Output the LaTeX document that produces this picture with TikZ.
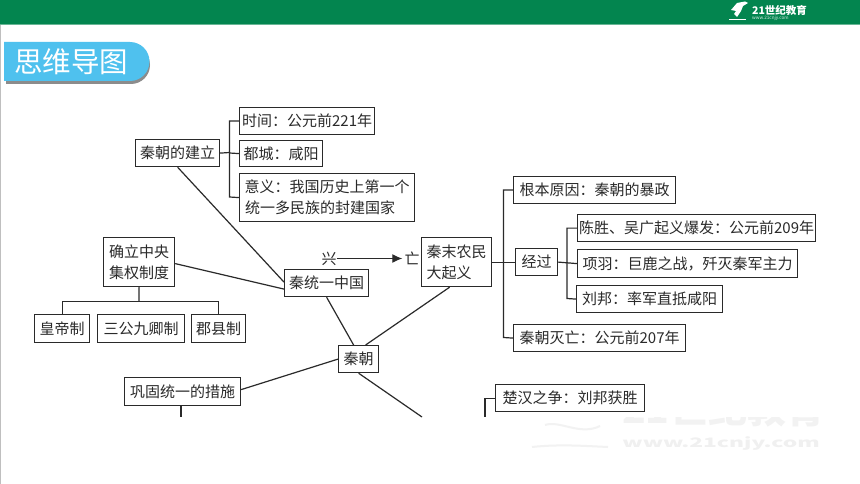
\documentclass[tikz,border=0pt]{standalone}
\usepackage{fontspec}
\usetikzlibrary{calc,arrows.meta}
\setmainfont{Noto Sans CJK SC}
\definecolor{hdr}{HTML}{03854F}
\definecolor{tab}{HTML}{4FC1EE}
\definecolor{ink}{HTML}{2A2A2A}
\tikzset{
  box/.style={draw=ink,line width=1.2pt,fill=white,inner sep=0pt,font=\fontsize{15}{21}\selectfont,text=ink,align=center},
  link/.style={draw=ink,line width=1.2pt},
  bare/.style={inner sep=0pt,font=\fontsize{15}{21}\selectfont,text=ink},
}
\newcommand{\bx}[6]{\node[box,minimum width=#4 pt-#2 pt,minimum height=#5 pt-#3 pt,anchor=north west] (#1) at (#2,#3) {#6};}
\begin{document}
\begin{tikzpicture}[x=1pt,y=-1pt]
\useasboundingbox (0,0) rectangle (860,484);
\fill[white] (0,0) rectangle (860,484);
\fill[black!25] (0,0) rectangle (1.2,484);
% faint watermark
\begin{scope}
\clip (500,417) rectangle (860,484);
\node[inner sep=0pt,text=black!5,font=\fontsize{36}{36}\selectfont\bfseries,anchor=west,xscale=1.08] (wm) at (622,410) {21世纪教育};
\node[inner sep=0pt,text=black!6,font=\fontsize{13}{13}\selectfont\bfseries,anchor=west,xscale=1.75] (wmu) at (622,444) {www.21cnjy.com};
\draw[black!5,line width=2pt] (532,447) .. controls (560,444) and (585,446) .. (608,447);
\draw[black!5,line width=2pt] (545,425) .. controls (560,420) and (580,436) .. (600,426);
\end{scope}
\fill[hdr] (0,0) rectangle (860,24);
\fill[hdr!60] (0,24) rectangle (860,24.8);
% logo
\node[inner sep=0pt,text=white,font=\fontsize{10.5}{10}\selectfont\bfseries\itshape,anchor=west] (logo) at (752,10.5) {21世纪教育};
\node[inner sep=0pt,text=white!85!hdr,font=\fontsize{4.6}{4}\selectfont,anchor=west] (url) at (752,18.5) {www.21cnjy.com};
\fill[white] (731,10) -- (737,3) -- (745,1.5) -- (748,3) -- (743,6) -- (741,11) -- (737,17) -- (734,14) -- (736,11) -- cycle;
\draw[white,line width=.7pt] (729,19.5) -- (746,19.5);
% title tab
\fill[black!45] (6,46) -- (131,46) arc[start angle=-90,end angle=90,radius=19] -- (6,84) -- cycle;
\fill[tab] (4,42) -- (130,42) arc[start angle=-90,end angle=90,radius=19.5] -- (4,81) -- cycle;
\node[inner sep=0pt,text=white,font=\fontsize{28.5}{30}\selectfont] (title) at (71,62) {思维导图};
% boxes
\bx{jl}{135}{139}{219}{166}{秦朝的建立}
\bx{sj}{239}{107}{374}{134}{时间：公元前221年}
\bx{dc}{239}{140}{322}{166}{都城：咸阳}
\bx{yy}{239}{173}{414}{221}{意义：我国历史上第一个\\统一多民族的封建国家\hspace*{14pt}}
\bx{qz}{103}{237}{174}{286}{确立中央\\集权制度}
\bx{hd}{34}{314}{89}{342}{皇帝制}
\bx{sg}{97}{314}{184}{342}{三公九卿制}
\bx{jx}{191}{314}{245}{342}{郡县制}
\bx{ty}{284}{269}{368}{296}{秦统一中国}
\bx{qc}{338}{345}{378}{372}{秦朝}
\bx{gg}{124}{377}{240}{405}{巩固统一的措施}
\bx{nm}{421}{237}{491}{286}{秦末农民\\大起义\hspace*{15pt}}
\bx{gb}{513}{176}{675}{203}{根本原因：秦朝的暴政}
\bx{jg}{515}{248}{557}{275}{经过}
\bx{cs}{577}{214}{815}{241}{陈胜、吴广起义爆发：公元前209年}
\bx{xy}{577}{249}{797}{277}{项羽：巨鹿之战，歼灭秦军主力}
\bx{lb}{576}{285}{722}{312}{刘邦：率军直抵咸阳}
\bx{mw}{513}{324}{685}{351}{秦朝灭亡：公元前207年}
\bx{ch}{495}{384}{644}{411}{楚汉之争：刘邦获胜}
\node[bare] (xing) at (329,258.5) {兴};
\node[bare] (wang) at (412,258.5) {亡};
% free ends where the picture is cut off
\coordinate (cutA) at (181,417);
\coordinate (cutB) at (422,417);
\coordinate (cutC) at (485,417);
% connectors
\draw[link] (jl.east) -- (229.5,152.5);
\draw[link] (sj.west) -| (229.5,197) -- (yy.west);
\draw[link] (229.5,153) -- (dc.west);
\draw[link] (jl.south) -- ($(ty.west)+(0,-1)$);
\draw[link] ($(qz.east)+(0,1.5)$) -- ($(ty.west)+(0,6)$);
\draw[link] (qz.south) -- (139,301.5);
\draw[link] (hd.north) |- (jx.north |- 0,301.5) -- (jx.north);
\draw[link] (ty.south) -- ($(qc.north)+(-5,0)$);
\draw[link] ($(qc.north)+(7,0)$) -- ($(nm.south)+(-7,0)$);
\draw[link] (qc.west) -- ($(gg.east)+(0,-2)$);
\draw[link] (qc.south) -- (cutB);
\draw[link] (gg.south -| cutA) -- (cutA);
\draw[link] (ch.west) -| (cutC);
\draw[link] (nm.east |- jg.west) -- (jg.west);
\draw[link] (gb.west) -| (503.5,337.5) -- (mw.west);
\draw[link] (jg.east) -- (xy.west);
\draw[link] (cs.west) -| (567,298.5) -- (lb.west);
\draw[link,-{Latex[length=10pt,width=9pt]},shorten >=2pt] (xing.east) -- (wang.west);
\end{tikzpicture}
\end{document}
